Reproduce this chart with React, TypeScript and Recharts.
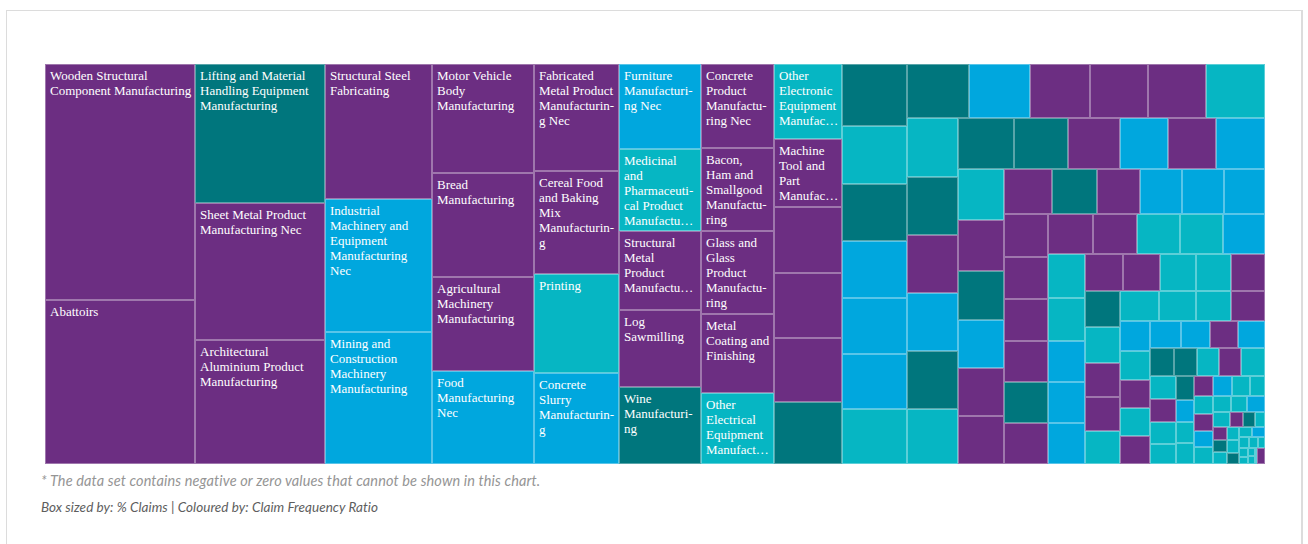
import { Treemap } from "recharts";

// industries that carry a label, largest box first
const industries = [
  "Wooden Structural Component Manufacturing",
  "Abattoirs",
  "Lifting and Material Handling Equipment Manufacturing",
  "Sheet Metal Product Manufacturing Nec",
  "Architectural Aluminium Product Manufacturing",
  "Structural Steel Fabricating",
  "Industrial Machinery and Equipment Manufacturing Nec",
  "Mining and Construction Machinery Manufacturing",
  "Motor Vehicle Body Manufacturing",
  "Bread Manufacturing",
  "Agricultural Machinery Manufacturing",
  "Food Manufacturing Nec",
  "Fabricated Metal Product Manufacturing Nec",
  "Cereal Food and Baking Mix Manufacturing",
  "Printing",
  "Concrete Slurry Manufacturing",
  "Furniture Manufacturing Nec",
  "Medicinal and Pharmaceutical Product Manufacturing",
  "Structural Metal Product Manufacturing",
  "Log Sawmilling",
  "Wine Manufacturing",
  "Concrete Product Manufacturing Nec",
  "Bacon, Ham and Smallgood Manufacturing",
  "Glass and Glass Product Manufacturing",
  "Metal Coating and Finishing",
  "Other Electrical Equipment Manufacturing",
  "Other Electronic Equipment Manufacturing",
  "Machine Tool and Part Manufacturing",
];

// % claims, one per box (box size)
const claimShare = [
  7.254, 5.041,
  3.703, 3.65, 3.303,
  2.96, 2.916, 2.894,
  2.278, 2.174, 1.965, 1.944,
  1.858, 1.787, 1.719, 1.602,
  1.423, 1.378, 1.329, 1.299, 1.267,
  1.252, 1.246, 1.242, 1.177, 1.067,
  1.045, 0.952, 0.92, 0.91, 0.892, 0.855,
  0.831, 0.769, 0.765, 0.765, 0.739, 0.733, 0.703,
  0.686, 0.679, 0.668, 0.642, 0.638, 0.635,
  0.62, 0.61, 0.607, 0.607, 0.602, 0.596,
  0.589, 0.564, 0.543, 0.502, 0.502, 0.492,
  0.481, 0.478, 0.465, 0.455, 0.455, 0.452,
  0.443, 0.415, 0.393, 0.391, 0.389, 0.387,
  0.386, 0.381, 0.377, 0.374, 0.372, 0.37,
  0.369, 0.357, 0.355, 0.352, 0.348,
  0.333, 0.323, 0.314, 0.314, 0.301,
  0.286, 0.278, 0.273, 0.263, 0.258,
  0.257, 0.256, 0.247, 0.245, 0.243,
  0.24, 0.23, 0.215, 0.211,
  0.184, 0.178, 0.174, 0.174, 0.174,
  0.171, 0.16, 0.155, 0.146,
  0.139, 0.132, 0.129, 0.127, 0.123,
  0.122, 0.12, 0.117, 0.112,
  0.088, 0.082, 0.079, 0.079, 0.078,
  0.078, 0.072, 0.07, 0.069,
  0.068, 0.061, 0.061, 0.06,
  0.054, 0.054, 0.051,
  0.039, 0.038, 0.037, 0.036, 0.035, 0.034, 0.033, 0.031, 0.029, 0.027,
  0.025, 0.023, 0.02, 0.018, 0.016, 0.014, 0.012, 0.01, 0.008, 0.006,
];

// claim frequency ratio class per box (colour)
const frequencyBand = [
  0, 0,
  1, 0, 0,
  0, 2, 2,
  0, 0, 0, 2,
  0, 0, 3, 2,
  2, 3, 0, 0, 1,
  0, 0, 0, 0, 3,
  3, 0, 0, 0, 0, 1,
  1, 3, 1, 2, 2, 2, 3,
  1, 2, 0, 0, 0, 3,
  3, 1, 0, 2, 1, 3,
  1, 1, 0, 2, 0, 2,
  3, 0, 1, 2, 0, 0,
  0, 1, 0, 2, 2, 2,
  0, 0, 0, 0, 1, 0,
  0, 0, 3, 3, 2,
  3, 3, 2, 2, 2,
  0, 0, 3, 3, 0,
  1, 3, 0, 0, 3,
  3, 3, 3, 0,
  2, 3, 0, 3, 0,
  2, 2, 0, 2,
  1, 1, 3, 0, 3,
  3, 0, 3, 3,
  1, 2, 3, 3, 0,
  2, 3, 3, 3,
  0, 2, 3, 3,
  3, 2, 3,
  0, 1, 3, 0, 1, 3, 3, 3, 1, 3,
  2, 3, 3, 3, 3, 3, 3, 3, 3, 0,
];

const bandColors = ["#6c2e82", "#00767d", "#00a7de", "#06b6c3"];

const data = claimShare.map((value, i) => ({
  name: industries[i] ?? "",
  value,
  band: frequencyBand[i],
}));

const LABEL_FONT = "13px 'Liberation Serif'";
const LINE = 15;

const ctx = document.createElement("canvas").getContext("2d");
const textWidth = (s: string) => {
  if (!ctx) return s.length * 6;
  ctx.font = LABEL_FONT;
  return ctx.measureText(s).width;
};

const fit = (s: string, maxW: number) => {
  if (textWidth(s) <= maxW) return s;
  let k = s.length - 1;
  while (k > 1 && textWidth(s.slice(0, k) + "…") > maxW) k--;
  return s.slice(0, k).trimEnd() + "…";
};

// word wrap, hyphenating words that are too long, ellipsis on the last line
function wrapLabel(name: string, maxW: number, maxLines: number) {
  const lines: string[] = [];
  if (maxLines < 1) return lines;
  const queue = name.split(" ");
  let cur = "";
  while (queue.length) {
    if (lines.length === maxLines - 1 && !cur) {
      lines.push(fit(queue.join(" "), maxW));
      return lines;
    }
    const word = queue[0];
    const cand = cur ? `${cur} ${word}` : word;
    if (textWidth(cand) <= maxW) {
      cur = cand;
      queue.shift();
      continue;
    }
    if (cur) {
      lines.push(cur);
      cur = "";
      continue;
    }
    let k = word.length - 1;
    while (k > 1 && textWidth(word.slice(0, k) + "-") > maxW) k--;
    lines.push(word.slice(0, k) + "-");
    queue[0] = word.slice(k);
  }
  if (cur) lines.push(cur);
  return lines;
}

function TreemapCell(props: any) {
  const { x, y, width, height, depth } = props;
  if (depth !== 1 || !width || !height) return null;
  const name = props.name ?? props.payload?.name ?? "";
  const band = props.band ?? props.payload?.band ?? 0;
  const lines = name ? wrapLabel(name, width - 8.5, Math.floor((height - 6) / LINE)) : [];
  return (
    <g>
      <rect x={x} y={y} width={width} height={height} fill={bandColors[band]} />
      <rect
        x={x + 0.5}
        y={y + 0.5}
        width={width - 1}
        height={height - 1}
        fill="none"
        stroke="#ffffff"
        strokeOpacity={0.35}
      />
      {lines.length > 0 && (
        <text fill="#ffffff" fontFamily="'Liberation Serif', 'Times New Roman', serif" fontSize={13}>
          {lines.map((l, i) => (
            <tspan key={i} x={x + 5} y={y + 16 + i * LINE}>
              {l}
            </tspan>
          ))}
        </text>
      )}
    </g>
  );
}

export default function App() {
  return (
    <div style={{ position: "absolute", left: 0, top: 0, width: 1308, height: 544, overflow: "hidden", background: "#fff" }}>
      <div
        style={{
          position: "absolute",
          left: 6,
          top: 10,
          width: 1294,
          height: 600,
          border: "1px solid #dcdcdc",
          borderRightWidth: 2,
        }}
      />
      <div style={{ position: "absolute", left: 45, top: 64 }}>
        <Treemap
          width={1220}
          height={400}
          data={data}
          dataKey="value"
          aspectRatio={1}
          isAnimationActive={false}
          content={(p: any) => <TreemapCell {...p} />}
        />
      </div>
      <div
        style={{
          position: "absolute",
          left: 41,
          top: 472,
          fontFamily: "Lato, sans-serif",
          fontStyle: "italic",
          fontSize: 14.5,
          letterSpacing: 0.12,
          lineHeight: "18px",
          color: "#959595",
          whiteSpace: "nowrap",
        }}
      >
        * The data set contains negative or zero values that cannot be shown in this chart.
      </div>
      <div
        style={{
          position: "absolute",
          left: 41,
          top: 498,
          fontFamily: "Lato, sans-serif",
          fontStyle: "italic",
          fontSize: 13.5,
          letterSpacing: 0.05,
          lineHeight: "18px",
          color: "#5e5e5e",
          whiteSpace: "nowrap",
        }}
      >
        Box sized by: % Claims | Coloured by: Claim Frequency Ratio
      </div>
    </div>
  );
}
